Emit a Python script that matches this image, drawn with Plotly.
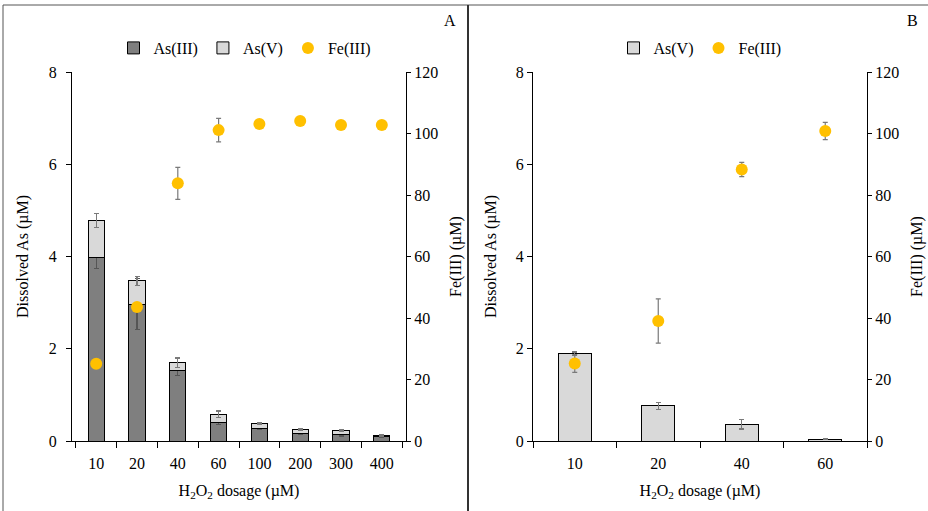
import plotly.graph_objects as go

W, H = 928, 511

# ---------------- data ----------------
dosA = ["10", "20", "40", "60", "100", "200", "300", "400"]
as3A = [3.98, 2.97, 1.52, 0.41, 0.27, 0.16, 0.14, 0.10]
as5A = [0.80, 0.50, 0.18, 0.17, 0.10, 0.08, 0.08, 0.02]
as3A_err = [0.24, 0.55, 0.10, 0.06, 0.02, 0.02, 0.03, 0.02]
as5A_err = [0.15, 0.09, 0.10, 0.07, 0.02, 0.02, 0.02, 0.01]
feA = [25.1, 43.6, 83.8, 101.1, 103.1, 104.1, 102.8, 102.8]
feA_err = [0.5, 0.5, 5.2, 3.8, 0.8, 0.8, 0.8, 0.8]

dosB = ["10", "20", "40", "60"]
as5B = [1.89, 0.76, 0.36, 0.04]
as5B_err = [0.04, 0.07, 0.10, 0.01]
feB = [25.2, 39.0, 88.3, 100.8]
feB_err = [2.9, 7.2, 2.3, 2.8]

# ---------------- style ----------------
FONT = "Times New Roman, Liberation Serif, serif"
DARK = "#7f7f7f"
LIGHT = "#d9d9d9"
FE = "#FFC000"
ERR = "#7a7a7a"
ERR_DARK = "#555555"

def px_x(v):
    return v / W

def px_y(v):
    return 1 - v / H

err = lambda arr, c=ERR: dict(type="data", array=arr, visible=True, color=c, thickness=1.2, width=2.5)

fig = go.Figure()

# Panel A
fig.add_trace(go.Bar(x=dosA, y=as3A, name="As(III)", marker=dict(color=DARK, line=dict(color="#000", width=1)),
                     error_y=err(as3A_err, ERR_DARK), xaxis="x", yaxis="y", legend="legend"))
fig.add_trace(go.Bar(x=dosA, y=as5A, name="As(V)", marker=dict(color=LIGHT, line=dict(color="#000", width=1)),
                     error_y=err(as5A_err), xaxis="x", yaxis="y", legend="legend"))
fig.add_trace(go.Scatter(x=dosA, y=feA, name="Fe(III)", mode="markers", marker=dict(color=FE, size=12),
                         error_y=err(feA_err), xaxis="x", yaxis="y2", legend="legend"))

# Panel B
fig.add_trace(go.Bar(x=dosB, y=as5B, name="As(V)", marker=dict(color=LIGHT, line=dict(color="#000", width=1)),
                     error_y=err(as5B_err), xaxis="x2", yaxis="y3", legend="legend2"))
fig.add_trace(go.Scatter(x=dosB, y=feB, name="Fe(III)", mode="markers", marker=dict(color=FE, size=12),
                         error_y=err(feB_err), xaxis="x2", yaxis="y4", legend="legend2"))

ydom = [px_y(441), px_y(72)]
common_x = dict(type="category", showline=True, linecolor="#000", linewidth=1, ticks="outside",
                tickson="boundaries", ticklen=6, tickcolor="#000", showgrid=False, zeroline=False,
                automargin=False, tickfont=dict(size=16, color="#000"), ticklabelstandoff=8,
                title=dict(text="H<sub>2</sub>O<sub>2</sub> dosage (µM)", font=dict(size=16, color="#000"), standoff=13))
common_yl = dict(range=[0, 8], dtick=2, showline=True, linecolor="#000", linewidth=1, ticks="outside",
                 ticklen=5, tickcolor="#000", showgrid=False, zeroline=False, domain=ydom,
                 automargin=False, tickfont=dict(size=16, color="#000"))
common_yr = dict(range=[0, 120], dtick=20, showline=True, linecolor="#000", linewidth=1, ticks="outside",
                 ticklen=4, tickcolor="#000", showgrid=False, zeroline=False, side="right",
                 automargin=False, tickfont=dict(size=16, color="#000"),
                 title=dict(text="Fe(III) (µM)", font=dict(size=16, color="#000"), standoff=12))

ytitle = lambda s: dict(text="Dissolved As (µM)", font=dict(size=16, color="#000"), standoff=s)

fig.update_layout(
    width=W, height=H,
    margin=dict(l=0, r=0, t=0, b=0, autoexpand=False),
    paper_bgcolor="white", plot_bgcolor="white",
    font=dict(family=FONT, size=16, color="#000"),
    barmode="stack", bargap=0.6,
    xaxis=dict(common_x, domain=[px_x(72), px_x(406)], anchor="y"),
    xaxis2=dict(common_x, domain=[px_x(533), px_x(867)], anchor="y3"),
    yaxis=dict(common_yl, anchor="x", ticklabelstandoff=6, title=ytitle(16)),
    yaxis2=dict(common_yr, anchor="x", overlaying="y"),
    yaxis3=dict(common_yl, anchor="x2", title=ytitle(15)),
    yaxis4=dict(common_yr, anchor="x2", overlaying="y3"),
    legend=dict(orientation="h", x=px_x(245), y=px_y(48), xanchor="center", yanchor="middle",
                font=dict(size=16), bgcolor="rgba(0,0,0,0)", itemwidth=30, traceorder="normal"),
    legend2=dict(orientation="h", x=px_x(700), y=px_y(48), xanchor="center", yanchor="middle",
                 font=dict(size=16), bgcolor="rgba(0,0,0,0)", itemwidth=30, traceorder="normal"),
    showlegend=True,
    shapes=[
        dict(type="line", xref="paper", yref="paper", x0=px_x(3), x1=1, y0=px_y(5), y1=px_y(5),
             line=dict(color="#555", width=1)),
        dict(type="line", xref="paper", yref="paper", x0=px_x(3), x1=px_x(3), y0=0, y1=px_y(5),
             line=dict(color="#555", width=1)),
        dict(type="line", xref="paper", yref="paper", x0=px_x(468), x1=px_x(468), y0=0, y1=px_y(5),
             line=dict(color="#333", width=2)),
    ],
    annotations=[
        dict(text="A", xref="paper", yref="paper", x=px_x(450), y=px_y(20), showarrow=False,
             font=dict(size=16, color="#000"), xanchor="center", yanchor="middle"),
        dict(text="B", xref="paper", yref="paper", x=px_x(912), y=px_y(20), showarrow=False,
             font=dict(size=16, color="#000"), xanchor="center", yanchor="middle"),
    ],
)

fig.write_html("out.html")
